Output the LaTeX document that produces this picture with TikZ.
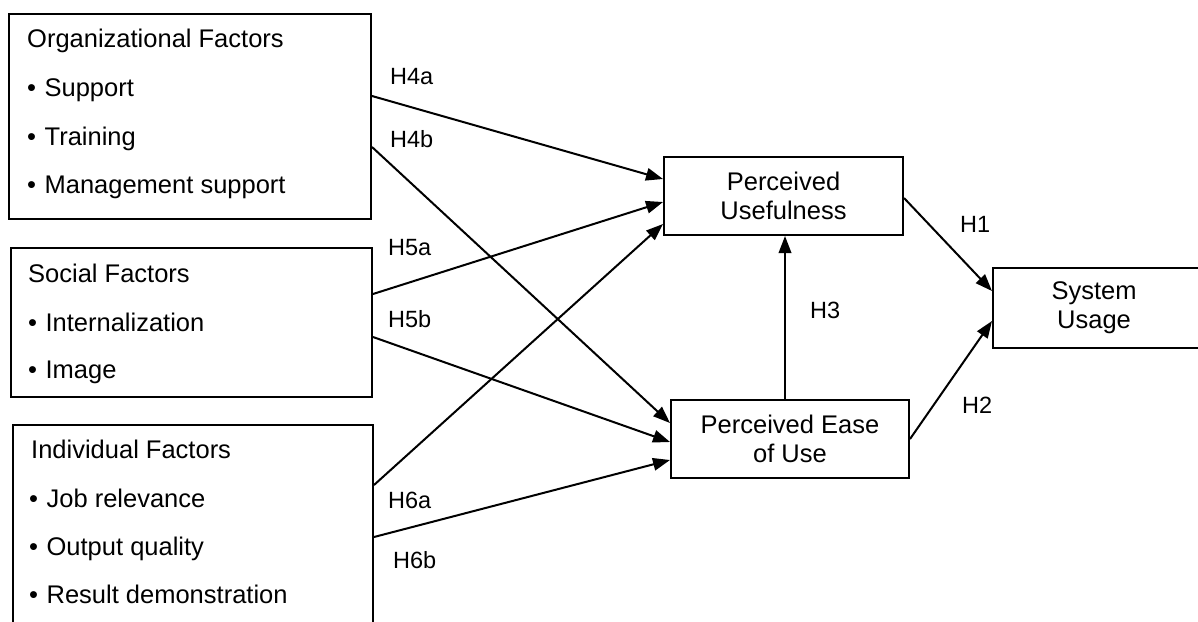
\documentclass[tikz,border=0pt]{standalone}
\usepackage{fontspec}
\setmainfont{Liberation Sans}
\usetikzlibrary{arrows.meta}

\tikzset{
  box/.style={draw, line width=2pt, anchor=north west, inner sep=0pt},
  boxtext/.style={font=\fontsize{25.5}{29}\selectfont, align=center, inner sep=0pt},
  item/.style={font=\fontsize{25.5}{29}\selectfont, anchor=base west, inner sep=0pt},
  hyp/.style={font=\fontsize{23.5}{27}\selectfont, anchor=base west, inner sep=0pt},
  arr/.style={line width=2pt, -{Triangle[length=17pt,width=12.5pt]}}
}
\newcommand{\bul}[1]{\textbullet\hspace{8.5pt}#1}

\begin{document}
\begin{tikzpicture}[x=1pt, y=-1pt]
  \useasboundingbox (0,0) rectangle (1198,621);

  % antecedent factor boxes
  \node[box, minimum width=362pt, minimum height=205pt] (org) at (8,13) {};
  \node[box, minimum width=361pt, minimum height=149pt] (soc) at (10,247) {};
  \node[box, minimum width=360pt, minimum height=230pt] (ind) at (12,424) {};

  \node[item] (orgT)  at (27,47)  {Organizational Factors};
  \node[item] (orgI1) at (27,96)  {\bul{Support}};
  \node[item] (orgI2) at (27,145) {\bul{Training}};
  \node[item] (orgI3) at (27,193) {\bul{Management support}};

  \node[item] (socT)  at (28,282) {Social Factors};
  \node[item] (socI1) at (28,331) {\bul{Internalization}};
  \node[item] (socI2) at (28,378) {\bul{Image}};

  \node[item] (indT)  at (31,458) {Individual Factors};
  \node[item] (indI1) at (29,507) {\bul{Job relevance}};
  \node[item] (indI2) at (29,555) {\bul{Output quality}};
  \node[item] (indI3) at (29,603) {\bul{Result demonstration}};

  % TAM constructs
  \node[box, minimum width=239pt, minimum height=78pt] (pu) at (663,156) {};
  \node[boxtext] (puT) at (pu.center) {Perceived\\Usefulness};
  \node[box, minimum width=238pt, minimum height=78pt] (peou) at (670,399) {};
  \node[boxtext] (peouT) at (peou.center) {Perceived Ease\\of Use};
  \node[box, minimum width=206pt, minimum height=80pt] (su) at (992,267) {};
  \node[boxtext] (suT) at ([xshift=-2pt]su.center) {System\\Usage};

  % hypothesised paths
  \draw[arr] ([yshift=-83pt]org.north east) -- ([yshift=17pt]pu.west);
  \draw[arr] ([yshift=-134pt]org.north east) -- ([yshift=16pt]peou.west);
  \draw[arr] ([yshift=-47pt]soc.north east) -- ([yshift=-6pt]pu.west);
  \draw[arr] ([yshift=-90pt]soc.north east) -- ([yshift=-3pt]peou.west);
  \draw[arr] ([yshift=-61pt]ind.north east) -- ([yshift=-28pt]pu.west);
  \draw[arr] ([yshift=-113pt]ind.north east) -- ([yshift=-21pt]peou.west);
  \draw[arr] ([yshift=-2pt]pu.east) -- ([yshift=17pt]su.west);
  \draw[arr] (peou.east) -- ([yshift=-13pt]su.west);
  \draw[arr] ([xshift=-5pt]peou.north) -- ([xshift=-5pt]peou.north |- pu.south);

  % path labels
  \node[hyp] (h4a) at (390,84)  {H4a};
  \node[hyp] (h4b) at (390,147) {H4b};
  \node[hyp] (h5a) at (388,255) {H5a};
  \node[hyp] (h5b) at (388,327) {H5b};
  \node[hyp] (h6a) at (388,508) {H6a};
  \node[hyp] (h6b) at (393,568) {H6b};
  \node[hyp] (h1)  at (960,232) {H1};
  \node[hyp] (h2)  at (962,413) {H2};
  \node[hyp] (h3)  at (810,318) {H3};
\end{tikzpicture}
\end{document}
